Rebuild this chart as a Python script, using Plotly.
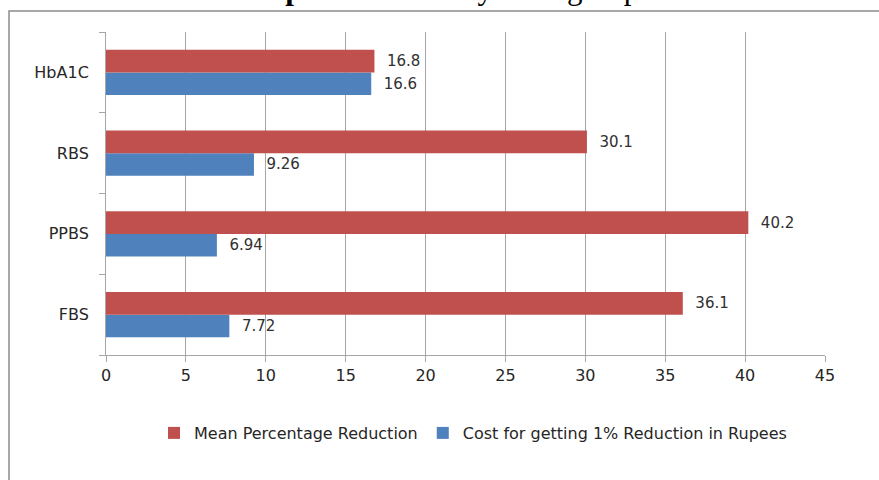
import plotly.graph_objects as go

categories = ["FBS", "PPBS", "RBS", "HbA1C"]
mean_pct_reduction = [36.1, 40.2, 30.1, 16.8]
cost_per_1pct = [7.72, 6.94, 9.26, 16.6]
mean_labels = ["36.1", "40.2", "30.1", "16.8"]
cost_labels = ["7.72", "6.94", "9.26", "16.6"]
x_ticks = [0, 5, 10, 15, 20, 25, 30, 35, 40, 45]

W, H = 879, 480
L, R, T, B = 106, 825, 32, 355

def px(x):
    return (x - L) / (R - L)

def py(y):
    return (B - y) / (B - T)

font = "DejaVu Sans"
pad = "\u00a0\u00a0"

fig = go.Figure()
fig.add_trace(go.Bar(
    y=categories, x=cost_per_1pct, orientation="h",
    name="Cost for getting 1% Reduction in Rupees",
    marker=dict(color="#4F81BD", line=dict(width=0)),
    text=[pad + t for t in cost_labels], textposition="outside",
    textfont=dict(family=font, size=15, color="#303030"),
    cliponaxis=False,
))
fig.add_trace(go.Bar(
    y=categories, x=mean_pct_reduction, orientation="h",
    name="Mean Percentage Reduction",
    marker=dict(color="#C0504D", line=dict(width=0)),
    text=[pad + t for t in mean_labels], textposition="outside",
    textfont=dict(family=font, size=15, color="#303030"),
    cliponaxis=False,
))

fig.update_layout(
    width=W, height=H,
    margin=dict(l=L, r=W - R, t=T, b=H - B, pad=0),
    paper_bgcolor="white", plot_bgcolor="white",
    barmode="group", bargap=0.44, bargroupgap=0,
    showlegend=True,
    legend=dict(orientation="h", x=px(473), xanchor="center", y=py(433), yanchor="middle",
                traceorder="reversed", font=dict(family=font, size=16, color="#262626"),
                itemwidth=30),
    xaxis=dict(range=[0, 45], tickvals=x_ticks, showgrid=True, gridcolor="#A6A6A6", gridwidth=1,
               zeroline=False, showline=True, linecolor="#A6A6A6", linewidth=1,
               ticks="outside", ticklen=6, tickcolor="#A6A6A6",
               tickfont=dict(family=font, size=16, color="#262626"), fixedrange=True),
    yaxis=dict(categoryorder="array", categoryarray=categories, showgrid=False,
               showline=True, linecolor="#A6A6A6", linewidth=1,
               ticks="outside", ticklen=6, tickcolor="#A6A6A6", tickson="boundaries",
               ticklabelstandoff=13,
               tickfont=dict(family=font, size=16, color="#262626"), fixedrange=True),
    shapes=[dict(type="rect", xref="paper", yref="paper",
                 x0=px(9), x1=px(905), y0=py(505), y1=py(11),
                 line=dict(color="#8C8C8C", width=1.5), fillcolor="rgba(0,0,0,0)", layer="below")],
    annotations=[dict(text="<b>Graph 1:</b> Cost analysis of group", xref="paper", yref="paper",
                      x=px(435), y=py(8), xanchor="center", yanchor="bottom",
                      showarrow=False,
                      font=dict(family="Liberation Serif", size=31, color="black"))],
)

fig.write_html("out.html")
